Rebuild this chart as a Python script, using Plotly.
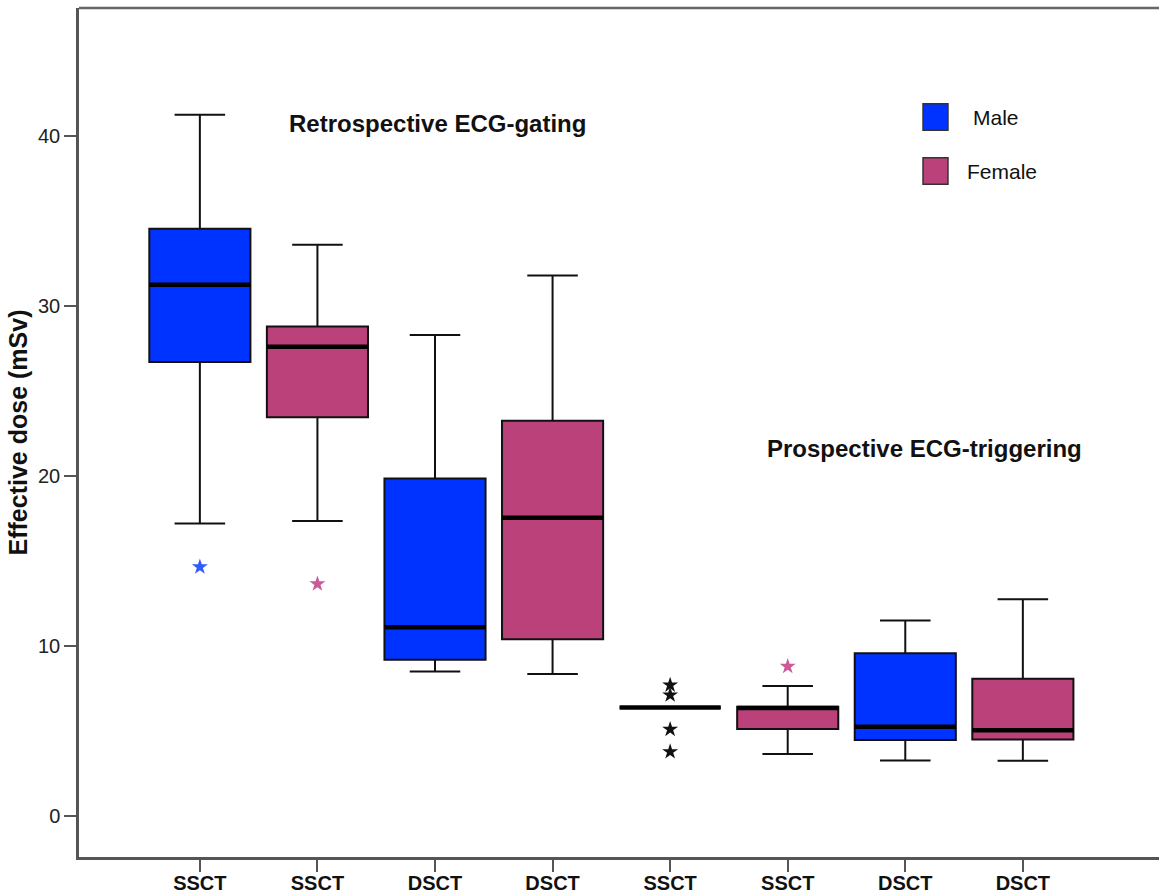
import plotly.graph_objects as go

# Effective dose (mSv) by scanner type and sex, for two ECG protocols
scanner = ["SSCT", "SSCT", "DSCT", "DSCT", "SSCT", "SSCT", "DSCT", "DSCT"]
sex = ["Male", "Female", "Male", "Female", "Male", "Female", "Male", "Female"]
positions = list(range(len(scanner)))

lower_whisker = [17.2, 17.35, 8.5, 8.35, 6.39, 3.65, 3.27, 3.25]
q1 = [26.7, 23.45, 9.2, 10.4, 6.39, 5.12, 4.47, 4.5]
median = [31.25, 27.6, 11.1, 17.55, 6.39, 6.35, 5.25, 5.05]
q3 = [34.55, 28.8, 19.85, 23.25, 6.39, 6.43, 9.57, 8.08]
upper_whisker = [41.25, 33.6, 28.3, 31.8, 6.39, 7.65, 11.5, 12.75]

# Extreme values (position index, dose, colour group)
outlier_pos = [0, 1, 4, 4, 4, 4, 5]
outlier_val = [14.65, 13.65, 7.7, 7.12, 5.1, 3.78, 8.8]
outlier_grp = ["Male", "Female", "Other", "Other", "Other", "Other", "Female"]

fill = {"Male": "#0033ff", "Female": "#bb417b"}
star_color = {"Male": "#2f5bff", "Female": "#cc5a98", "Other": "#111111"}

BOX_W = 0.86

fig = go.Figure()

for s in ["Male", "Female"]:
    idx = [i for i, v in enumerate(sex) if v == s]
    fig.add_trace(go.Box(
        x=[positions[i] for i in idx],
        q1=[q1[i] for i in idx],
        median=[median[i] for i in idx],
        q3=[q3[i] for i in idx],
        lowerfence=[lower_whisker[i] for i in idx],
        upperfence=[upper_whisker[i] for i in idx],
        width=BOX_W,
        whiskerwidth=0.5,
        fillcolor=fill[s],
        line=dict(color="#111111", width=2),
        boxpoints=False,
        hoverinfo="skip",
        name=s,
        showlegend=False,
    ))

# Heavy median bars
mx, my = [], []
for i, m in zip(positions, median):
    mx += [i - BOX_W / 2, i + BOX_W / 2, None]
    my += [m, m, None]
fig.add_trace(go.Scatter(x=mx, y=my, mode="lines",
                         line=dict(color="#000000", width=4.5),
                         hoverinfo="skip", showlegend=False))

# Extreme value stars
for g in ["Male", "Female", "Other"]:
    pts = [k for k, v in enumerate(outlier_grp) if v == g]
    fig.add_trace(go.Scatter(
        x=[outlier_pos[k] for k in pts],
        y=[outlier_val[k] for k in pts],
        mode="markers",
        marker=dict(symbol="star", size=12, color=star_color[g],
                    line=dict(width=0)),
        hoverinfo="skip", showlegend=False))

FONT = "Liberation Sans, Arial, sans-serif"

# Legend keys
legend_items = [("Male", 0.8716, 0.826), ("Female", 0.808, 0.8204)]
for label, yc, xt in legend_items:
    fig.add_shape(type="rect", xref="paper", yref="paper",
                  x0=0.7815, x1=0.8046, y0=yc - 0.0155, y1=yc + 0.0155,
                  fillcolor=fill[label], line=dict(color="#333333", width=1.5))
    fig.add_annotation(x=xt, y=yc, xref="paper", yref="paper", text=label,
                       showarrow=False, xanchor="left", yanchor="middle",
                       font=dict(family=FONT, size=21, color="#111111"))

fig.add_annotation(x=0.3315, y=0.8645, xref="paper", yref="paper",
                   text="<b>Retrospective ECG-gating</b>", showarrow=False,
                   xanchor="center", yanchor="middle",
                   font=dict(family=FONT, size=24, color="#111111"))
fig.add_annotation(x=0.7833, y=0.4817, xref="paper", yref="paper",
                   text="<b>Prospective ECG-triggering</b>", showarrow=False,
                   xanchor="center", yanchor="middle",
                   font=dict(family=FONT, size=24, color="#111111"))

# Top frame line
fig.add_shape(type="line", xref="paper", yref="paper", x0=0, x1=1, y0=1, y1=1,
              line=dict(color="#666666", width=2.5))

fig.update_layout(
    width=1159, height=895,
    margin=dict(l=79, r=0, t=8, b=38),
    paper_bgcolor="white", plot_bgcolor="white",
    font=dict(family=FONT, color="#111111"),
    showlegend=False,
)
fig.update_xaxes(
    range=[-1.028, 8.158], automargin=False,
    tickmode="array", tickvals=positions,
    ticktext=[f"<b>{t}</b>" for t in scanner],
    tickfont=dict(size=20, color="#111111"),
    ticklabelstandoff=-6,
    showgrid=False, zeroline=False,
    showline=True, linecolor="#555555", linewidth=2.5,
    ticks="outside", ticklen=12, tickwidth=2, tickcolor="#555555",
)
fig.update_yaxes(
    range=[-2.41, 47.53], automargin=False,
    tickmode="array", tickvals=[0, 10, 20, 30, 40],
    tickfont=dict(size=20, color="#222222"),
    showgrid=False, zeroline=False,
    showline=True, linecolor="#555555", linewidth=2.5,
    ticks="outside", ticklen=12, tickwidth=2, tickcolor="#555555",
    title=dict(text="<b>Effective dose (mSv)</b>", standoff=4,
               font=dict(size=25, color="#111111")),
)

fig.write_html("out.html")
